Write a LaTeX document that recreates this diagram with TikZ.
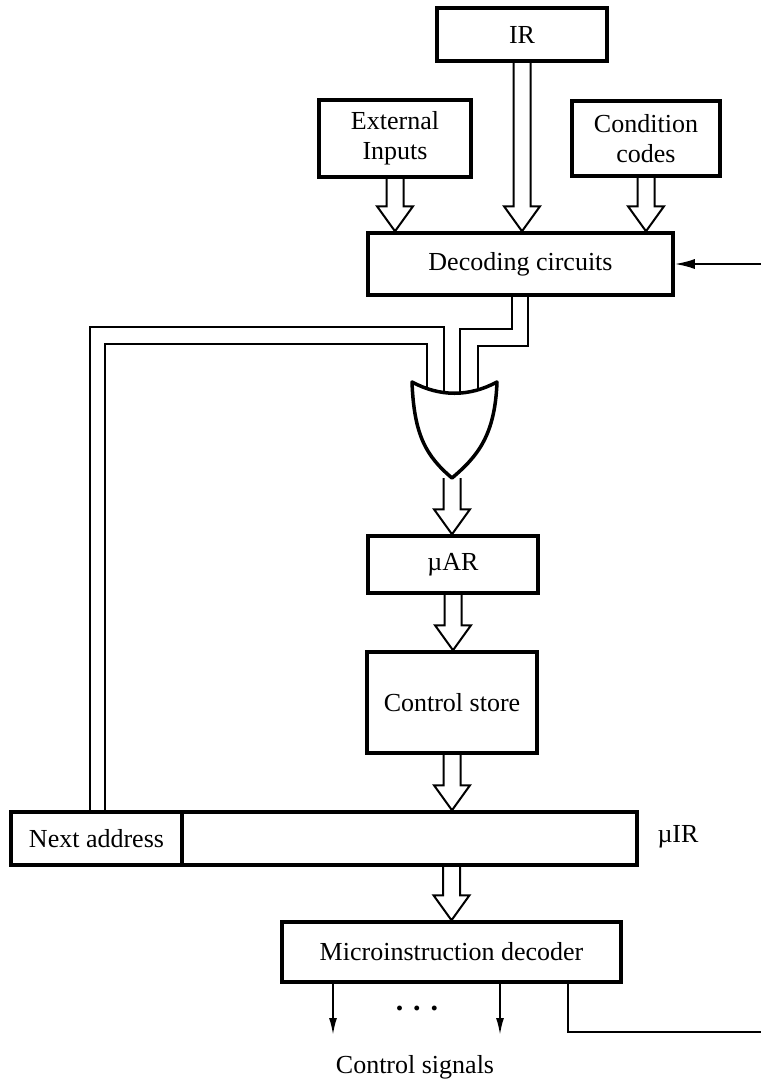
\documentclass[tikz,border=0pt]{standalone}
\usepackage{fontspec}
\setmainfont{Liberation Serif}
\usetikzlibrary{calc,arrows.meta}

% hollow bus arrow, pointing down from #1 to the height of #2
\newcommand{\busarrow}[2]{%
  \draw[busline] let \p1=#1, \p2=#2 in
    (\x1-8.5pt,\y1) -- (\x1-8.5pt,\y2+25pt) -- (\x1-18pt,\y2+25pt) -- (\x1,\y2)
    -- (\x1+18pt,\y2+25pt) -- (\x1+8.5pt,\y2+25pt) -- (\x1+8.5pt,\y1);}

\begin{document}
\begin{tikzpicture}[x=1pt, y=-1pt,
    % boxes
    box/.style={draw, line width=3.5pt, inner sep=0pt, align=center, font=\fontsize{26}{30}\selectfont},
    % lines
    busline/.style={line width=2pt, line join=miter},
    wire/.style={line width=2.2pt},
    sig/.style={line width=2pt, -{Latex[length=17pt,width=8pt]}},
    gate/.style={line width=3.5pt, fill=white, line join=round},
    % labels
    lbl/.style={inner sep=0pt, font=\fontsize{26}{30}\selectfont}
  ]
  \useasboundingbox (0,0) rectangle (761,1080);

  % --- BOXES ---
  \node[box, minimum width=170pt, minimum height=53pt] (ir) at (522,34.5) {IR};
  \node[box, minimum width=152pt, minimum height=77pt] (ext) at (395,138.5) {External\\Inputs};
  \node[box, minimum width=148pt, minimum height=75pt] (cc) at (646,138.5) {Condition\\codes};
  \node[box, minimum width=305pt, minimum height=62pt] (dec) at (520.5,264) {Decoding circuits};

  \node[box, minimum width=170pt, minimum height=57pt] (uar) at (453,564.5) {µAR};
  \node[box, minimum width=170pt, minimum height=101pt] (cs) at (452,702.5) {Control store};

  \node[box, minimum width=171pt, minimum height=53pt] (na) at (96.5,838.5) {Next address};
  \node[box, minimum width=455pt, minimum height=53pt] (uir) at (409.5,838.5) {};
  \node[box, minimum width=339pt, minimum height=60pt] (mid) at (451.5,952) {Microinstruction decoder};

  % --- GATE ---
  \coordinate (gl) at (412,382);
  \coordinate (gr) at (497,382);
  \coordinate (gt) at (452,478);
  \coordinate (in1) at (427,395);
  \coordinate (in2) at (444,395);
  \coordinate (in3) at (460,395);
  \coordinate (in4) at (478,395);

  % wires into the gate
  \draw[wire] (na.north) ++(-6.5,0) |- (444,327) -- (in2);
  \draw[wire] (na.north) ++(8.5,0) |- (427,344) -- (in1);
  \draw[wire] (dec.south) ++(-8.5,0) |- (460,329) -- (in3);
  \draw[wire] (dec.south) ++(7.5,0) |- (478,346) -- (in4);

  % bus arrows
  \busarrow{(ext.south)}{(dec.north)}
  \busarrow{(ir.south)}{(dec.north)}
  \busarrow{(cc.south)}{(dec.north)}
  \busarrow{(gt)}{(uar.north)}
  \busarrow{(uar.south)}{(cs.north)}
  \busarrow{(cs.south)}{(uir.north)}
  \busarrow{(uir.south -| mid.north)}{(mid.north)}

  \draw[gate] (gl) .. controls (440,397) and (469,397) .. (gr)
    .. controls (495,435) and (478,456) .. (gt)
    .. controls (426,456) and (414,435) .. (gl) -- cycle;

  % --- SIGNALS ---
  \coordinate (cs1) at (333,1035);
  \coordinate (cs2) at (500,1035);
  \coordinate (fbout) at (761,1032);
  \coordinate (fbin) at (761,264);
  \draw[sig] (mid.south -| cs1) -- (cs1);
  \draw[sig] (mid.south -| cs2) -- (cs2);
  \draw[wire, line width=2pt] (mid.south) ++(116.5,0) |- (fbout);
  \draw[sig, -{Latex[length=20pt,width=10pt]}] (fbin) -- (dec.east);

  % --- LABELS ---
  \node[lbl] (uirlbl) at (678,837) {µIR};
  \node[lbl, font=\fontsize{30}{30}\selectfont\bfseries] (dots) at (417,1008) {.\hspace{10pt}.\hspace{10pt}.};
  \node[lbl] (ctrl) at (415,1067) {Control signals};
\end{tikzpicture}
\end{document}
